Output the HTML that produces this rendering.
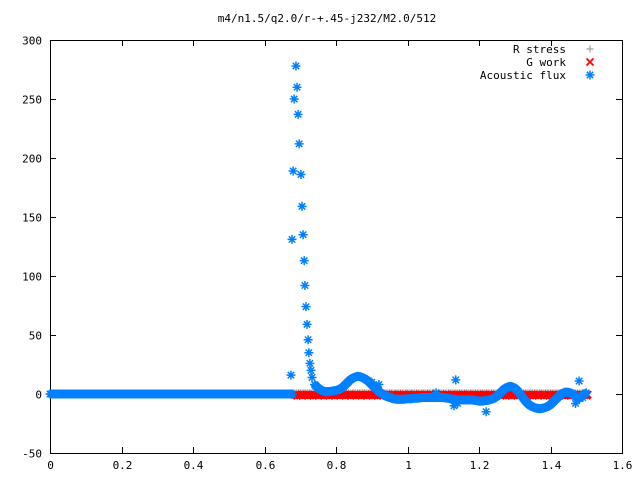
<!DOCTYPE html>
<html><head><meta charset="utf-8"><style>body{margin:0;background:#fff}svg{display:block}text{font-family:"DejaVu Sans Mono","Liberation Mono",monospace;font-size:11px;fill:#000}</style></head>
<body>
<svg id="c" width="640" height="480">
<text x="327" y="22" text-anchor="middle">m4/n1.5/q2.0/r-+.45-j232/M2.0/512</text>
</svg>
<script>
const xTicks=[0,0.2,0.4,0.6,0.8,1,1.2,1.4,1.6];
const xTickLabels=["0","0.2","0.4","0.6","0.8","1","1.2","1.4","1.6"];
const yTicks=[-50,0,50,100,150,200,250,300];
const peakX=[0.674,0.677,0.680,0.683,0.688,0.691,0.694,0.697,0.702,0.705,0.708,0.711,0.713,0.716,0.719,0.722,0.724,0.727,0.730,0.733];
const peakY=[16,131,189,250,278,260,237,212,186,159,135,113,92,74,59,46,35,26,20,14];
const curveStart=0.74, curveStep=0.01;
const curveY=[8,5,3,2,2,2.5,3,4,6,9,12,14,15,14.5,13,11,8,5,2,0,-2,-3,-4,-4.5,-4.5,-4.5,-4,-4,-3.5,-3.5,-3,-3,-3,-3,-3,-3,-3,-3.5,-4,-4.5,-5,-5,-5,-5,-5,-5.5,-6,-6,-5.5,-5,-4,-2,1,4,6,6.5,5,2,-2,-6,-9,-11,-12,-12.5,-12,-11,-9,-6,-3,0,1.5,1.5,0.5,-2,-4,-1,1];
const outX=[1.135,1.13,1.14,1.22,1.48,1.47,0.92,0.95,1.08,0.9,1.49];
const outY=[12,-10,-8,-15,11,-8,8,-2,1,10,-3];
const gworkY=[-1,-0.3,-1.5,-0.5,-1];
const rstressY=[1];
const W=document.getElementById('c'),NS="http://www.w3.org/2000/svg";
const L=50,R=622,T=40,B=453;
const sx=v=>L+(v-0)/(1.6-0)*(R-L), sy=v=>B-(v+50)/350*(B-T);
function mk(t,a,p){const e=document.createElementNS(NS,t);for(const k in a)e.setAttribute(k,a[k]);(p||W).appendChild(e);return e;}
const ax=mk('g',{stroke:'#000','stroke-width':1,fill:'none'});


mk('rect',{x:L+.5,y:T+.5,width:R-L,height:B-T},ax);
xTicks.forEach((v,i)=>{const x=Math.round(sx(v))+.5;mk('path',{d:`M${x} ${B}v-6M${x} ${T}v6`},ax);
 const t=mk('text',{x:x,y:B+16,'text-anchor':'middle'});t.textContent=xTickLabels[i];
 
 });
yTicks.forEach(v=>{const y=Math.round(sy(v))+.5;mk('path',{d:`M${L} ${y}h6M${R} ${y}h-6`},ax);
 const t=mk('text',{x:42,y:y+4,'text-anchor':'end'});t.textContent=v;
 
 });
function star(g,x,y,c){const s=4.5,d=3.2;mk('path',{d:`M${x-s} ${y}h${2*s}M${x} ${y-s}v${2*s}M${x-d} ${y-d}l${2*d} ${2*d}M${x-d} ${y+d}l${2*d} ${-2*d}`,stroke:c,'stroke-width':1.5},g);}
function cross(g,x,y,c){mk('path',{d:`M${x-3.5} ${y-3.5}l7 7M${x-3.5} ${y+3.5}l7 -7`,stroke:c,'stroke-width':1.8},g);}
function plus(g,x,y,c){mk('path',{d:`M${x-3.5} ${y}h7M${x} ${y-3.5}v7`,stroke:c,'stroke-width':1.2},g);}
const gr=mk('g',{});


for(let x=0.68;x<=1.5;x+=0.005)plus(gr,sx(x),sy(rstressY[0]),'#a0a0a0');
const gg=mk('g',{});


let k=0;for(let x=0.685;x<=1.505;x+=0.003){cross(gg,sx(x),sy(gworkY[k%gworkY.length]),'#ff0000');k++;}
const ga=mk('g',{});


for(let x=0;x<=0.68;x+=0.003)star(ga,sx(x),sy(0),'#0080ff');
peakX.forEach((x,i)=>star(ga,sx(x),sy(peakY[i]),'#0080ff'));
curveY.forEach((y,i)=>{const x=curveStart+i*curveStep;star(ga,sx(x),sy(y),'#0080ff');
 if(i<curveY.length-1){for(let f=0.25;f<1;f+=0.25){const xm=x+curveStep*f,ym=y+(curveY[i+1]-y)*f;star(ga,sx(xm),sy(ym),'#0080ff');}}});
outX.forEach((x,i)=>star(ga,sx(x),sy(outY[i]),'#0080ff'));
const lg=mk('g',{});


[["R stress",plus,'#a0a0a0'],["G work",cross,'#ff0000'],["Acoustic flux",star,'#0080ff']].forEach((e,i)=>{
 const y=49+i*13;const t=mk('text',{x:566,y:y+4,'text-anchor':'end'},lg);t.textContent=e[0];
 
 
 e[1](lg,590,y,e[2]);});
</script>
</body></html>
